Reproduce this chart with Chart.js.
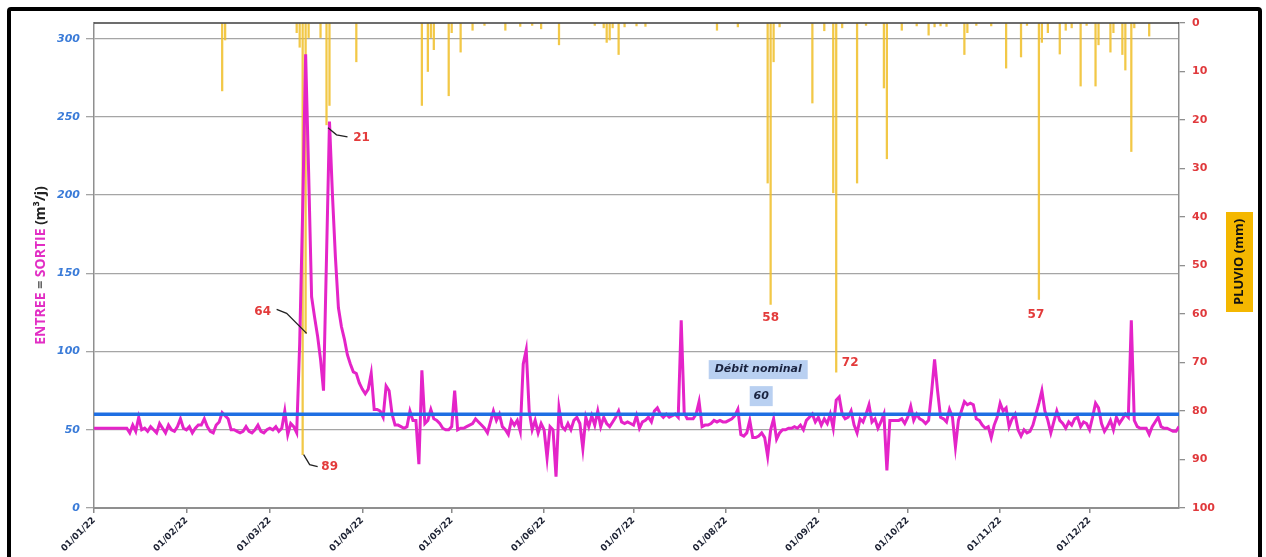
<!DOCTYPE html>
<html><head><meta charset="utf-8">
<script src="https://cdn.jsdelivr.net/npm/chart.js@4.4.1/dist/chart.umd.min.js"></script>
<style>
html,body{margin:0;padding:0;background:#fff;}
#wrap{position:relative;width:1266px;height:557px;overflow:hidden;background:#fff;}
#c{position:absolute;left:0;top:0;}
#frame{position:absolute;left:7px;top:7px;width:1247px;height:575px;border:4.5px solid #000;border-radius:4px;pointer-events:none;}
</style></head><body>
<div id="wrap"><canvas id="c" width="1266" height="557"></canvas><div id="frame"></div></div>
<script>
const monthStarts = [0,31,59,90,120,151,181,212,243,273,304,334];
const tickLabels = ['01/01/22','01/02/22','01/03/22','01/04/22','01/05/22','01/06/22','01/07/22','01/08/22','01/09/22','01/10/22','01/11/22','01/12/22'];

// Daily ENTREE = SORTIE flow (m3/j), 01/01/22 .. 31/12/22
const flow = [
51,51,51,51,51,51,51,51,51,51,
51,51,48,53,49,58,50,51,49,52,
50,48,54,51,48,53,50,49,52,57,
51,50,52,48,51,53,53,57,52,49,
48,53,55,61,59,57,50,50,49,48,
49,52,49,48,50,53,49,48,50,51,
50,52,49,51,62,47,54,52,48,105,
190,290,215,135,122,110,95,75,160,247,
200,160,128,116,108,98,92,87,86,80,
76,73,76,86,63,63,62,58,78,75,
60,53,53,52,51,52,62,56,56,28,
88,54,56,63,57,56,54,51,50,50,
52,75,50,51,51,52,53,54,57,55,
53,51,48,55,62,56,60,52,50,47,
56,53,56,49,92,101,62,50,56,48,
54,50,32,52,50,20,64,52,50,54,
50,56,58,54,38,58,52,59,53,62,
52,58,54,52,55,58,62,55,54,55,
54,53,59,51,55,56,58,55,62,64,
60,58,60,58,59,60,58,120,61,57,
57,57,60,68,52,53,53,54,56,55,
56,55,55,56,57,59,63,47,46,48,
56,45,45,46,48,45,33,50,57,44,
48,50,50,51,51,52,51,53,50,56,
58,60,55,58,53,57,54,60,51,69,
71,60,57,58,62,53,48,57,55,60,
66,55,57,51,55,60,24,56,56,56,
56,57,54,58,65,56,60,57,56,54,
56,74,95,75,58,57,55,63,58,39,
56,62,68,66,67,66,57,56,53,51,
52,45,53,58,67,62,64,52,57,60,
50,46,50,48,49,53,60,67,75,62,
56,48,55,62,56,54,51,55,53,57,
58,52,55,54,50,58,67,64,54,49,
52,56,50,58,54,57,60,58,120,56,
52,51,51,51,47,52,55,58,52,51,
51,50,49,49,52
];

// PLUVIO (mm): day index of year and rainfall
const rainDay = [43,44,68,69,70,71,72,76,78,79,88,110,112,113,114,119,120,123,127,131,138,143,147,150,156,168,171,172,173,174,176,178,182,185,209,216,226,227,228,230,241,245,248,249,251,256,259,265,266,271,276,280,282,284,286,292,293,296,301,306,311,313,317,318,320,324,326,328,331,333,336,337,341,342,345,346,348,349,354];
const rainMm  = [14,3.5,2,5,89,64,3,3,21,17,8,17,10,3,5.5,15,2,6,1.5,0.5,1.5,0.7,0.5,1.2,4.5,0.5,1,4,3.5,1,6.5,0.8,0.6,0.7,1.5,0.8,33,58,8,0.8,16.5,1.6,35,72,1,33,0.5,13.4,28,1.5,0.6,2.5,0.8,0.6,0.7,6.5,2,0.5,0.6,9.3,7,0.5,57,4,2,6.4,1.5,1,13,0.5,13,4.5,6,2,6.5,9.7,26.5,1,2.7];

const nominal = 60;
const nominalLabel = 'Débit nominal';

// labelled rain bars: day, and label offsets/leader in px from bar tip
const labelDays = [71,70,78,227,249,317];
const labelOffsets = [[-43,-22],[27,12],[35,13],[0,14],[14,-9],[-3,15]];
const labelLeaders = [[[1,0],[-19,-20],[-29,-24]],[[1,0],[7,10],[15,12]],[[1.5,3],[10,10],[21,12]],null,null,null];

Chart.defaults.font.family = 'DejaVu Sans';

const decor = {
  id: 'decor',
  afterDraw(chart) {
    const ctx = chart.ctx, ca = chart.chartArea;
    const xs = chart.scales.x, yL = chart.scales.y, yR = chart.scales.y2;
    ctx.save();
    // top border of plot
    ctx.strokeStyle = '#3c3c3c'; ctx.lineWidth = 1.5;
    ctx.beginPath(); ctx.moveTo(ca.left, ca.top); ctx.lineTo(ca.right, ca.top); ctx.stroke();

    // rain labels
    labelDays.forEach((d, i) => {
      const mm = rainMm[rainDay.indexOf(d)];
      const ax = xs.getPixelForValue(d), ay = yR.getPixelForValue(mm);
      const ld = labelLeaders[i];
      if (ld) {
        ctx.strokeStyle = '#222'; ctx.lineWidth = 1.3;
        ctx.beginPath();
        ld.forEach((p, k) => { k ? ctx.lineTo(ax + p[0], ay + p[1]) : ctx.moveTo(ax + p[0], ay + p[1]); });
        ctx.stroke();
      }
      ctx.fillStyle = '#e33b3b';
      ctx.font = 'bold 12px "DejaVu Sans"';
      ctx.textAlign = 'center'; ctx.textBaseline = 'middle';
      ctx.fillText(String(mm), ax + labelOffsets[i][0], ay + labelOffsets[i][1]);
    });

    // Débit nominal boxes
    const nx = xs.getPixelForValue(223), ny = yL.getPixelForValue(nominal);
    ctx.fillStyle = '#b9d0f1';
    ctx.fillRect(nx - 50, ny - 54, 99, 19);
    ctx.fillRect(nx - 9, ny - 28, 23, 20);
    ctx.fillStyle = '#1b2440';
    ctx.font = 'italic bold 11px "DejaVu Sans"';
    ctx.textAlign = 'center'; ctx.textBaseline = 'middle';
    ctx.fillText(nominalLabel, nx - 0.5, ny - 44.5);
    ctx.fillText(String(nominal), nx + 2.5, ny - 18);

    // left axis title
    ctx.save();
    ctx.translate(41, (ca.top + ca.bottom) / 2 + 0);
    ctx.rotate(-Math.PI / 2);
    ctx.font = 'bold 14px "Open Sans"';
    ctx.textBaseline = 'middle'; ctx.textAlign = 'left';
    const parts = [['ENTREE', '#e22ec4'], [' = ', '#666'], ['SORTIE', '#e22ec4'], [' (m³/j)', '#222']];
    const total = parts.reduce((s, p) => s + ctx.measureText(p[0]).width, 0);
    let px = -total / 2;
    parts.forEach(p => { ctx.fillStyle = p[1]; ctx.fillText(p[0], px, 0); px += ctx.measureText(p[0]).width; });
    ctx.restore();

    // right axis title box
    ctx.fillStyle = '#f4b700';
    ctx.fillRect(ca.right + 47, 212, 27, 100);
    ctx.save();
    ctx.translate(ca.right + 60.5, 262);
    ctx.rotate(-Math.PI / 2);
    ctx.fillStyle = '#111';
    ctx.font = 'bold 13px "Open Sans"';
    ctx.textAlign = 'center'; ctx.textBaseline = 'middle';
    ctx.fillText('PLUVIO (mm)', 0, 0);
    ctx.restore();
    ctx.restore();
  }
};

new Chart(document.getElementById('c'), {
  type: 'line',
  data: {
    datasets: [
      { type: 'line', label: 'nominal', data: [{x: 0, y: nominal}, {x: flow.length - 1, y: nominal}],
        borderColor: '#1f6fe3', borderWidth: 3.5, pointRadius: 0, yAxisID: 'y', order: 0 },
      { type: 'line', label: 'ENTREE = SORTIE', data: flow.map((v, i) => ({x: i, y: v})),
        borderColor: '#e424c8', borderWidth: 3, pointRadius: 0, tension: 0, yAxisID: 'y', order: 1 },
      { type: 'bar', label: 'PLUVIO', data: rainDay.map((d, i) => ({x: d, y: rainMm[i]})),
        backgroundColor: 'rgba(240,192,45,0.88)', borderWidth: 0, barThickness: 1.6, yAxisID: 'y2', order: 2 }
    ]
  },
  options: {
    responsive: false, animation: false, devicePixelRatio: 1,
    layout: { padding: { top: 23, left: 0, right: 0, bottom: 0 } },
    plugins: { legend: { display: false }, tooltip: { enabled: false } },
    scales: {
      x: { type: 'linear', min: 0, max: flow.length - 1, offset: false,
        afterBuildTicks: s => { s.ticks = monthStarts.map(v => ({value: v})); },
        afterFit: s => { s.height = 49; },
        grid: { offset: false, drawOnChartArea: false, drawTicks: true, tickLength: 5, color: '#8a8a8a', lineWidth: 1.5 },
        border: { color: '#8f8f8f', width: 2 },
        ticks: { autoSkip: false, minRotation: 45, maxRotation: 45, padding: 2, color: '#1d2233',
          font: { size: 9, weight: 'bold' },
          callback: v => { const k = monthStarts.indexOf(v); return k >= 0 ? tickLabels[k] : ''; } } },
      y: { position: 'left', min: 0, max: 310,
        afterBuildTicks: s => { s.ticks = s.ticks.filter(t => t.value % 50 === 0); },
        afterFit: s => { s.width = 94; },
        ticks: { stepSize: 50, includeBounds: false, padding: 6, color: '#3a7bd8',
          font: { size: 11, weight: 'bold', style: 'italic' } },
        grid: { color: '#a5a5a5', lineWidth: 1.3, tickLength: 8 },
        border: { color: '#8f8f8f', width: 1.5 } },
      y2: { position: 'right', reverse: true, min: 0, max: 100,
        afterFit: s => { s.width = 87; },
        ticks: { stepSize: 10, padding: 7, color: '#e0393c', font: { size: 11, weight: 'bold' } },
        grid: { drawOnChartArea: false, tickLength: 6, color: '#8f8f8f', lineWidth: 1.3 },
        border: { color: '#8f8f8f', width: 1.5 } }
    }
  },
  plugins: [decor]
});
</script>
</body></html>
